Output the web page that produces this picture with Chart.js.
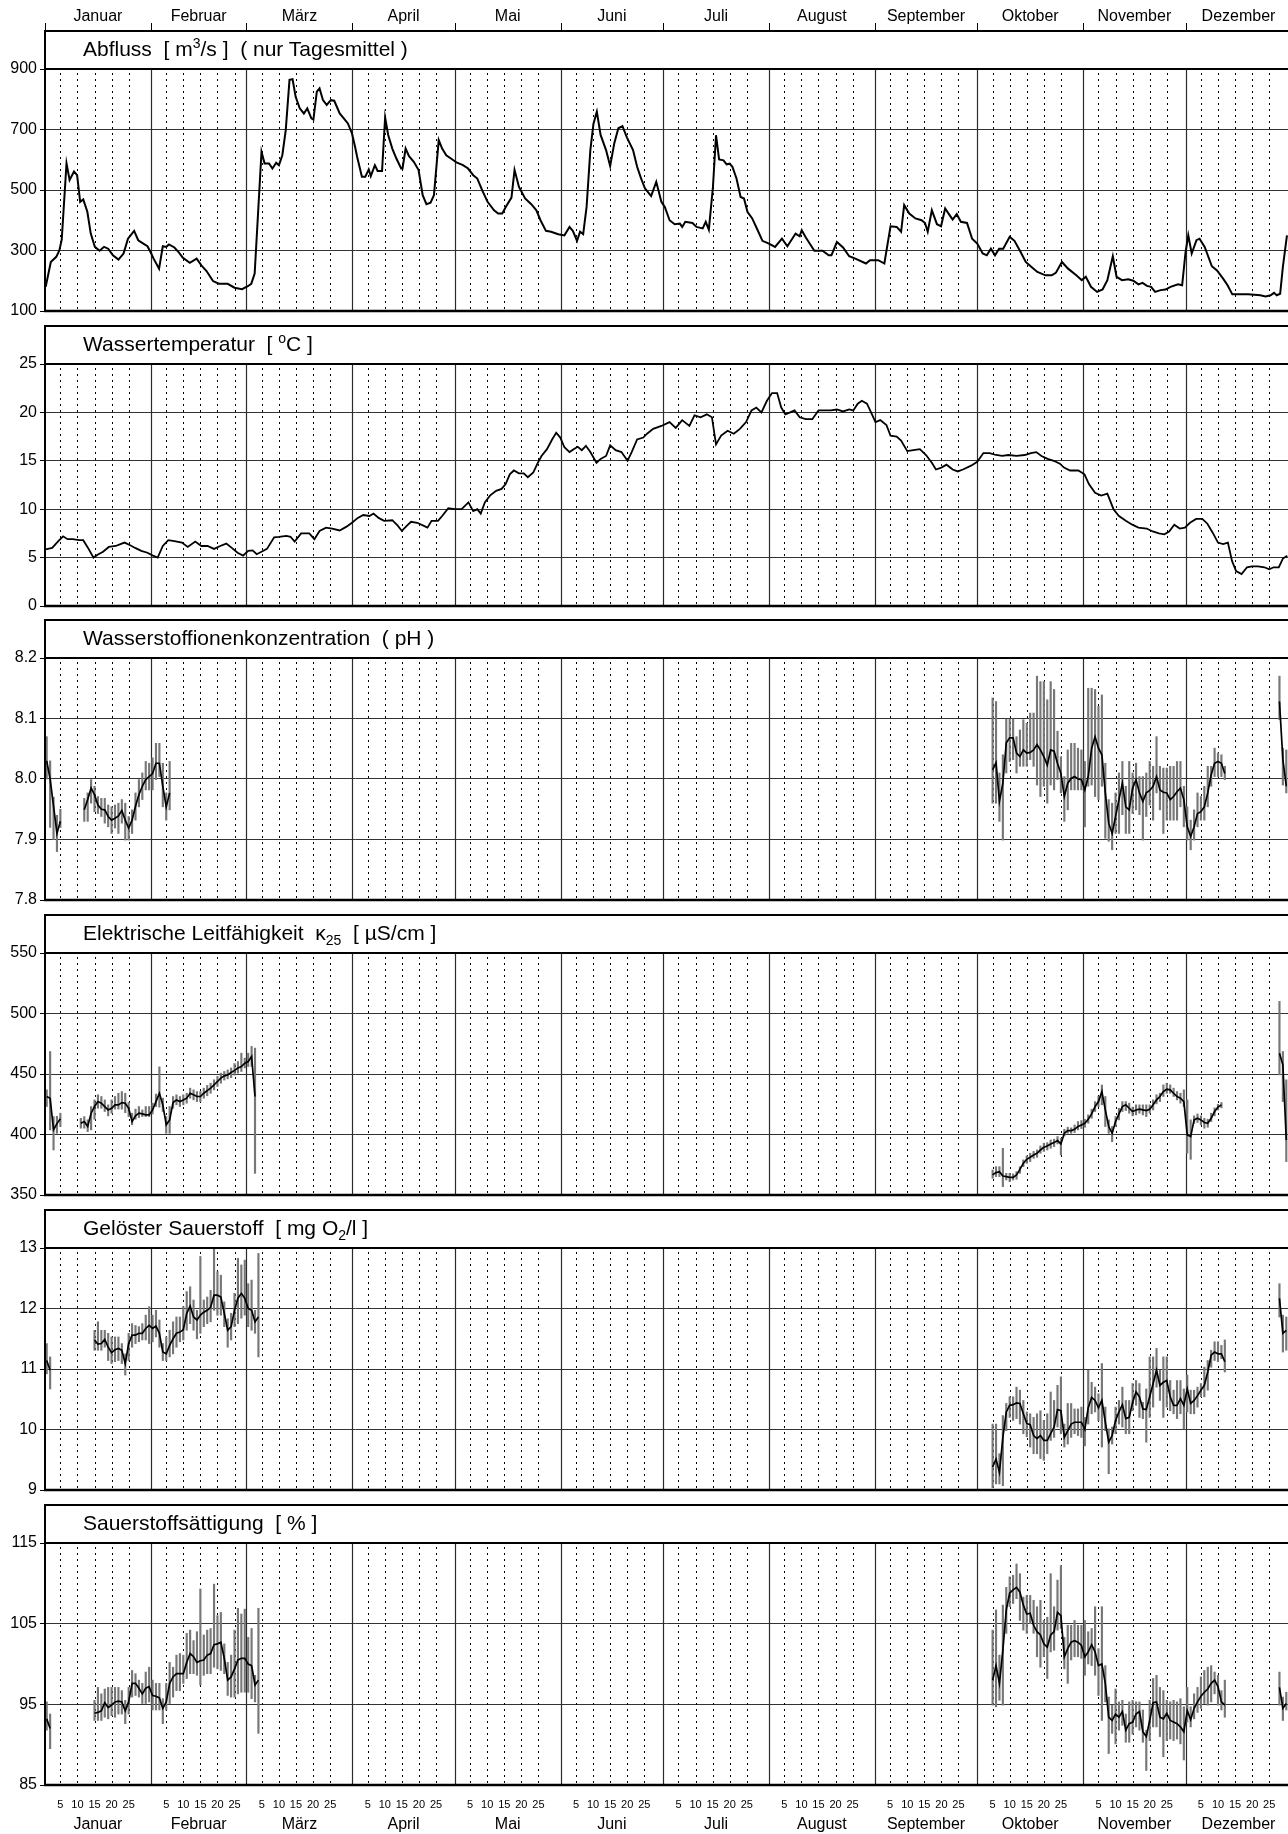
<!DOCTYPE html>
<html lang="de">
<head>
<meta charset="utf-8">
<title>Messstation Jahresgang</title>
<script src="https://cdn.jsdelivr.net/npm/chart.js@4.4.1/dist/chart.umd.min.js"></script>
<style>
  html, body { margin: 0; padding: 0; background: #fff; overflow: hidden; }
  #wrap { position: relative; width: 1288px; height: 1834px; }
  #wrap canvas { position: absolute; left: 0; }
  .titel { position: absolute; left: 83px; z-index: 2; font: 21px "Liberation Sans", Arial, sans-serif;
           line-height: 24px; white-space: pre; color: #000; }
  .titel sup { font-size: 14px; vertical-align: 8px; line-height: 0; }
  .titel sub { font-size: 14px; vertical-align: -5px; line-height: 0; }
</style>
</head>
<body>
<div id="wrap"></div>
<script>
// Kalender
var monate = ["Januar","Februar","März","April","Mai","Juni","Juli","August","September","Oktober","November","Dezember"];
var monatsLaenge = [31,28,31,30,31,30,31,31,30,31,30,31];
var tagMarken = [5,10,15,20,25];

// Abfluss [m3/s], Tagesmittel (Position im Jahr in Tagen)
var abflussTag = [0.2,1.7,3.3,4.2,4.9,6.3,7.2,8.5,9.4,10.3,11.2,12.4,13.4,14.6,16,17.3,18.5,19.9,21.5,23,24.3,26.1,27.3,28.8,30,30.9,31.8,33.4,34.5,35.5,36.3,37.9,39.1,40.3,42.4,44.4,45.8,47.3,49.2,50.9,53.5,55.5,57.7,59.4,60.4,61.4,63.4,64.3,65.6,66.6,67.7,68.5,69.5,70.5,71.6,72.5,73.4,74.6,75.8,76.8,78,78.6,79.6,80.4,81.4,82.5,83.7,84.7,86.3,87.5,88.7,89.9,90.8,91.4,92.8,93.8,94.8,95.4,96.6,97.4,98.7,99.6,100.5,101.7,102.9,104.3,104.7,105.6,106.6,108,109.4,110.6,111.7,112.9,113.9,115.3,116.3,117.5,119.3,120.5,122.4,123.9,125.4,126.6,128.1,129.6,131.5,132.7,133.9,135.1,136.6,137.5,138.8,140.6,142.4,143.9,145.1,146.7,148.2,150.3,152.1,153.6,154.6,155.8,156.7,157.6,158.6,159.7,160.6,161.6,162.7,164.3,165.5,166.7,167.9,169.1,170.4,172.2,173.4,174.5,175.7,177.5,179,180.5,181.5,182.9,184.4,185.9,186.6,187.5,189.6,190.8,192.6,193.5,194.4,195.6,196.5,197.4,198.7,199.6,200.5,201.3,202.5,203.7,204.7,205.7,207.1,208.7,210.1,212,213.8,215.8,217.4,219.8,221,221.6,222.8,225.3,227.7,229.5,230.3,231.9,233.7,235.5,237.3,240.4,241.6,244,245.8,247.6,249.4,250.7,251.6,253.1,254.9,256.7,257.7,258.5,259.7,261.2,262.4,263.6,264.9,265.8,267,268.2,270,271.5,273,274.6,275.8,277,278.2,279.4,280.6,282.5,283.9,285.7,287.2,288.8,290.6,293,294.8,296,297.8,299.6,302,303.6,304.8,306.3,308.1,309.7,311.1,312.7,313.8,315.4,317.2,318.7,320.2,321.4,322.7,323.9,325.1,326.7,328.1,329.6,331.8,333,334,334.8,335.8,337.2,338.1,339.6,341.7,343.2,345,346.3,347.7,349.9,352.3,355.9,357.4,358.9,359.9,360.7,361.7,362.5,363.7];
var abflussWert = [180,262,279,300,336,588,533,561,549,461,469,428,356,312,299,312,306,284,270,290,339,365,334,323,314,295,273,240,314,312,320,310,295,277,259,273,251,232,199,190,190,177,172,182,190,224,626,588,588,571,590,582,615,698,864,866,808,770,753,770,737,733,825,836,797,781,797,795,753,737,720,687,643,610,544,544,568,546,582,563,563,740,682,637,604,571,571,637,612,593,566,483,453,458,483,665,637,615,601,591,582,571,549,538,497,461,433,422,422,447,475,566,510,472,453,433,400,365,362,354,350,378,364,332,362,354,444,632,718,759,682,632,579,654,704,711,674,632,577,540,505,480,527,461,444,400,387,389,378,395,391,378,373,395,369,510,681,601,598,585,587,577,538,477,472,428,406,367,332,323,312,339,314,356,347,367,343,299,299,284,284,328,310,281,273,257,268,268,257,380,378,362,450,422,406,400,391,362,433,387,380,439,417,402,420,395,391,339,323,290,284,306,284,306,306,345,332,295,262,246,229,218,218,226,262,240,218,202,213,180,163,171,202,281,213,202,205,200,188,193,183,180,163,169,171,180,188,185,295,350,290,334,339,312,248,234,207,185,155,155,155,152,148,152,160,152,157,246,350];

// Wassertemperatur [°C]
var tempTag = [0.2,2.1,3.9,5.3,6.6,8.1,10,11.2,12.6,14.2,15.4,17,18.7,20.7,22.1,23.3,24.8,26.4,28.2,30,31.6,33,34.5,36.1,37.9,40.1,41.8,44,45.8,47.6,49.5,51.3,53.1,54.7,56.4,58,59.5,60.8,62,63.4,65,67.1,68.5,70.7,71.9,73.1,75,77.4,78.9,80.4,82.3,84.1,86.3,88.3,89.9,91.6,93.2,95,96.2,97.7,99.3,101.7,103.3,104.5,106,107.2,109,110.8,112,113.2,115.1,116.3,118.1,120,122,124,125.4,126.6,127.6,128.8,130.3,132.1,133.7,134.9,136.1,137.3,138.8,140.2,141.4,143,144.2,145.4,147,148.5,149.7,150.9,152.1,153.6,154.8,156,157.2,158.4,159.7,161.5,162.7,164.3,165.5,167.1,168.8,170.6,171.8,173.4,175.2,176.3,178.1,180.5,182.9,184.7,186.6,188.7,190.2,192,193.8,195.3,196.5,198,199.9,201.7,203.5,205.3,206.9,208.3,209.8,211.4,212.9,214.4,215.6,216.8,218.2,219.5,221,222.8,224.7,226.5,228.3,230.1,231.9,233.7,235.5,236.7,238,239.2,240.7,241.9,243.2,244.6,246.4,247.6,249.4,250.7,252.5,254.3,256.2,258,259.7,260.9,262.5,264,265.8,267.3,268.8,271.2,273,274.8,276.6,278.5,280.3,282.1,284.5,286.9,288.7,290.3,291.8,293.6,295.4,297.2,298.4,300.2,302.6,304.4,305.7,307.5,309.3,311.1,312.9,314.5,316.5,318.4,320.2,322.6,324.4,326.2,327.8,329.2,330.7,332.3,333.8,335.3,337.1,338.9,340.4,341.9,343.5,345,346.4,347.6,348.8,350.4,352,353.4,355.2,357.1,358.5,359.8,361.3,362.5,363.8];
var tempWert = [5.86,6.0,6.7,7.2,6.9,6.9,6.8,6.8,6.0,5.0,5.3,5.6,6.1,6.2,6.4,6.55,6.3,6.0,5.7,5.5,5.2,5.0,6.2,6.8,6.7,6.55,6.1,6.65,6.2,6.2,5.9,6.2,6.45,6.0,5.5,5.2,5.7,5.75,5.35,5.6,5.9,7.1,7.15,7.25,7.15,6.65,7.5,7.5,6.9,7.75,8.1,8.0,7.8,8.2,8.6,9.1,9.4,9.3,9.55,9.1,8.8,8.86,8.3,7.75,8.3,8.7,8.6,8.3,8.1,8.8,8.8,9.3,10.1,10.0,10.0,10.7,9.8,10.0,9.55,10.7,11.4,11.9,12.1,12.6,13.6,14.0,13.7,13.7,13.3,13.8,14.7,15.5,16.2,17.2,17.9,17.4,16.4,15.9,16.2,16.45,16.1,16.55,15.9,14.8,15.2,15.5,16.6,16.1,15.9,15.0,15.9,17.2,17.4,17.8,18.3,18.6,19.0,18.4,19.2,18.6,19.7,19.5,19.8,19.5,16.7,17.6,18.1,17.8,18.3,19.0,20.2,20.5,20.0,21.2,22.0,22.0,20.5,19.8,20.0,20.2,19.5,19.3,19.3,20.2,20.2,20.2,20.3,20.1,20.3,20.2,20.9,21.2,20.9,20.0,19.0,19.2,18.7,17.6,17.5,17.1,16.0,16.1,16.2,15.6,14.8,14.1,14.3,14.6,14.1,13.9,14.1,14.5,14.9,15.8,15.8,15.6,15.5,15.6,15.5,15.6,15.8,15.9,15.5,15.2,15.0,14.7,14.3,14.0,14.0,13.6,12.6,11.7,11.4,11.6,10.0,9.3,8.8,8.4,8.1,8.0,7.7,7.5,7.4,7.7,8.4,8.0,8.1,8.6,9.0,9.0,8.5,7.6,6.55,6.4,6.55,4.66,3.6,3.3,4.0,4.1,4.1,4.0,3.8,4.0,4.0,4.9,5.2];

// pH (Tag des Jahres, Tagesmittel, Tagesminimum, Tagesmaximum)
var phTag = [1,2,3,4,5,12,13,14,15,16,17,18,19,20,21,22,23,24,25,26,27,28,29,30,31,32,33,34,35,36,37,278,279,280,281,282,283,284,285,286,287,288,289,290,291,292,293,294,295,296,297,298,299,300,301,302,303,304,305,306,307,308,309,310,311,312,313,314,315,316,317,318,319,320,321,322,323,324,325,326,327,328,329,330,331,332,333,334,335,336,337,338,339,340,341,342,343,344,345,346,362,363,364];
var phMittel = [8.03,8.00,7.955,7.91,7.93,7.949,7.966,7.985,7.974,7.957,7.950,7.949,7.938,7.932,7.935,7.939,7.948,7.932,7.919,7.932,7.955,7.974,7.988,7.999,8.004,8.009,8.026,8.026,7.988,7.954,7.977,8.015,8.027,7.963,7.993,8.060,8.068,8.068,8.043,8.037,8.048,8.043,8.044,8.048,8.057,8.048,8.037,8.023,8.048,8.046,8.026,8.009,7.971,7.993,8.001,8.004,8.000,7.999,7.982,8.004,8.051,8.070,8.051,8.040,7.977,7.927,7.910,7.938,7.966,7.993,7.954,7.949,7.985,7.999,7.977,7.963,7.977,7.981,7.988,8.004,7.982,7.978,7.977,7.966,7.971,7.979,7.985,7.966,7.921,7.905,7.921,7.943,7.946,7.954,7.977,8.007,8.026,8.029,8.026,8.009,8.128,8.032,7.988];
var phMin = [8.00,7.92,7.90,7.88,7.92,7.930,7.930,7.960,7.946,7.943,7.938,7.927,7.921,7.910,7.919,7.910,7.927,7.899,7.899,7.910,7.932,7.954,7.966,7.982,7.982,7.982,7.999,8.004,7.954,7.932,7.949,7.960,7.960,7.930,7.899,8.010,8.029,8.032,8.010,8.021,8.021,8.021,8.032,8.021,7.990,7.971,7.988,7.960,7.990,7.982,7.999,7.977,7.930,7.949,7.982,7.982,7.982,7.982,7.921,7.988,7.990,7.971,7.966,7.988,7.902,7.897,7.883,7.910,7.910,7.941,7.910,7.910,7.943,7.949,7.941,7.899,7.938,7.957,7.932,7.977,7.949,7.910,7.932,7.932,7.932,7.932,7.954,7.921,7.899,7.883,7.899,7.921,7.932,7.932,7.954,7.988,8.004,8.004,8.004,7.999,8.098,7.990,7.977];
var phMax = [8.07,8.03,7.97,7.94,7.95,7.968,7.977,7.999,7.988,7.971,7.968,7.968,7.957,7.954,7.957,7.960,7.966,7.960,7.938,7.949,7.977,7.999,8.010,8.029,8.026,8.035,8.059,8.059,8.026,7.977,8.029,8.134,8.128,8.010,8.040,8.099,8.099,8.099,8.070,8.081,8.098,8.092,8.109,8.109,8.170,8.161,8.161,8.131,8.161,8.148,8.079,8.037,8.004,8.048,8.059,8.059,8.051,8.048,8.029,8.150,8.150,8.148,8.120,8.139,8.026,7.966,7.960,7.977,8.010,8.029,7.988,8.029,8.010,8.026,8.004,8.004,8.010,8.029,8.021,8.070,8.021,8.018,8.018,8.021,8.021,8.029,8.029,7.988,7.954,7.932,7.949,7.977,7.971,7.988,8.021,8.021,8.051,8.043,8.040,8.021,8.170,8.051,8.048];

// Elektrische Leitfähigkeit [µS/cm]
var lfTag = [1,2,3,4,5,11,12,13,14,15,16,17,18,19,20,21,22,23,24,25,26,27,28,29,30,31,32,33,34,35,36,37,38,39,40,41,42,43,44,45,46,47,48,49,50,51,52,53,54,55,56,57,58,59,60,61,62,278,279,280,281,282,283,284,285,286,287,288,289,290,291,292,293,294,295,296,297,298,299,300,301,302,303,304,305,306,307,308,309,310,311,312,313,314,315,316,317,318,319,320,321,322,323,324,325,326,327,328,329,330,331,332,333,334,335,336,337,338,339,340,341,342,343,344,345,362,363,364];
var lfMittel = [431.4,430.0,404.0,409.0,413.0,409.3,410.7,406.6,417.6,423.1,427.2,425.9,423.1,420.3,421.7,424.5,424.5,426.4,425.9,421.7,410.7,415.4,417.6,417.0,416.2,416.2,420.3,427.2,434.1,424.5,408.0,412.1,426.4,428.6,427.2,428.6,430.0,434.1,432.8,431.4,431.4,434.1,436.3,438.3,441.0,443.8,446.6,448.5,449.3,451.2,453.0,455.0,456.2,459.0,460.3,464.5,431.4,366.6,368.5,369.3,365.7,365.2,364.6,364.6,366.6,371.2,376.2,379.5,381.2,383.1,384.5,387.2,389.4,390.5,392.2,393.3,395.0,392.2,401.0,403.2,403.2,404.3,406.6,407.9,409.3,412.6,417.0,423.1,427.2,435.5,420.3,406.6,401.0,410.7,417.0,423.1,424.5,421.7,419.0,420.3,420.9,420.3,419.8,420.9,424.5,428.6,431.4,435.5,437.4,436.9,434.1,431.4,430.0,427.2,399.7,398.3,412.1,413.4,412.1,409.9,409.3,413.4,419.0,422.6,424.5,467.2,457.6,395.5];
var lfMin = [423.1,403.8,387.2,401.0,406.6,405.2,405.2,402.4,403.8,412.6,421.7,421.7,419.0,415.4,417.6,421.0,421.0,421.0,418.0,414.8,408.0,412.6,414.0,414.8,414.8,414.8,417.0,423.1,422.6,419.0,401.0,401.0,421.7,424.5,423.1,424.5,425.9,430.0,428.6,427.2,427.2,430.0,432.0,434.1,436.9,439.7,442.4,445.0,446.0,447.0,449.0,450.7,452.1,455.0,456.2,456.2,367.9,363.8,365.2,365.2,356.9,362.4,361.0,362.4,363.0,367.9,373.4,376.2,377.6,380.3,381.2,384.5,386.0,387.2,388.6,390.0,392.2,383.1,398.8,401.0,401.0,401.6,403.8,404.9,406.0,409.3,413.4,419.0,423.1,424.5,406.6,401.0,394.1,406.6,412.1,419.0,419.8,417.6,415.4,416.2,417.6,416.2,414.8,417.6,420.3,425.3,427.2,431.4,434.1,434.1,431.4,428.6,425.9,423.1,384.5,379.5,409.0,410.0,408.0,405.2,406.0,410.7,415.4,420.3,422.0,449.3,427.2,377.6];
var lfMax = [436.9,468.6,414.8,415.0,417.6,413.4,414.8,412.1,423.1,428.6,432.8,431.4,428.6,424.5,428.6,431.4,434.1,435.5,434.1,426.4,417.6,421.0,423.1,420.3,423.1,423.1,425.9,433.4,455.9,430.0,414.8,423.1,431.4,432.8,431.4,432.8,434.1,438.3,436.9,435.5,435.5,438.3,440.6,442.4,445.2,448.0,450.7,452.1,453.4,455.0,458.6,460.3,467.2,463.1,467.2,472.8,471.4,370.7,373.4,373.4,388.6,367.9,367.9,367.4,369.3,373.4,379.0,382.3,384.5,386.0,387.2,390.5,392.8,393.3,395.5,396.1,398.3,396.9,404.3,406.0,405.5,407.9,410.7,411.5,412.6,416.2,420.9,427.2,431.4,440.9,431.4,412.1,406.6,414.8,421.7,427.2,427.2,425.9,422.6,424.5,424.5,424.5,424.5,424.5,428.6,432.8,434.1,441.0,442.4,441.0,438.3,435.5,434.1,436.9,428.6,412.1,415.4,417.0,415.4,413.4,412.6,417.6,422.0,425.0,426.4,510.0,468.6,445.2];

// Gelöster Sauerstoff [mg O2/l] und Sauerstoffsättigung [%]
var o2Tag = [1,2,15,16,17,18,19,20,21,22,23,24,25,26,27,28,29,30,31,32,33,34,35,36,37,38,39,40,41,42,43,44,45,46,47,48,49,50,51,52,53,54,55,56,57,58,59,60,61,62,63,278,279,280,281,282,283,284,285,286,287,288,289,290,291,292,293,294,295,296,297,298,299,300,301,302,303,304,305,306,307,308,309,310,311,312,313,314,315,316,317,318,319,320,321,322,323,324,325,326,327,328,329,330,331,332,333,334,335,336,337,338,339,340,341,342,343,344,345,346,362,363,364];
var o2Mittel = [11.14,10.98,11.48,11.41,11.42,11.49,11.36,11.27,11.32,11.34,11.31,11.09,11.42,11.56,11.56,11.59,11.59,11.67,11.72,11.67,11.71,11.59,11.28,11.25,11.39,11.50,11.59,11.61,11.65,11.92,12.04,11.86,11.81,11.89,11.94,11.97,12.02,12.22,12.22,12.19,11.92,11.64,11.70,11.97,12.17,12.25,12.17,12.00,11.97,11.78,11.86,9.38,9.51,9.29,9.87,10.29,10.40,10.41,10.44,10.43,10.26,10.10,10.08,9.90,9.85,9.90,9.82,9.82,9.93,10.04,10.33,10.31,9.87,9.98,10.09,10.12,10.12,10.12,10.00,10.36,10.53,10.48,10.36,10.48,10.12,9.79,9.90,10.15,10.29,10.41,10.18,10.20,10.45,10.62,10.54,10.34,10.33,10.54,10.76,10.98,10.73,10.78,10.81,10.54,10.40,10.40,10.51,10.40,10.67,10.43,10.48,10.56,10.65,10.73,10.95,11.23,11.28,11.25,11.25,11.12,12.17,11.59,11.64];
var o2Min = [10.92,10.67,11.31,11.31,11.31,11.36,11.14,11.09,11.12,11.14,11.09,10.90,11.14,11.36,11.42,11.45,11.48,11.48,11.42,11.45,11.53,11.36,11.14,11.14,11.20,11.25,11.36,11.45,11.48,11.64,11.75,11.64,11.50,11.59,11.70,11.75,11.78,11.97,11.89,11.89,11.70,11.36,11.48,11.70,11.75,11.84,11.89,11.70,11.64,11.59,11.20,9.04,9.10,9.10,9.07,9.98,10.20,10.15,10.18,10.09,9.93,9.88,9.71,9.60,9.60,9.52,9.49,9.60,9.82,9.87,10.04,9.93,9.71,9.76,9.87,9.93,9.90,9.87,9.73,10.09,10.26,10.29,10.15,9.71,9.98,9.27,9.76,9.93,10.09,10.04,9.93,9.93,10.31,10.40,10.20,10.18,9.79,10.20,10.37,10.70,10.48,10.20,10.37,10.31,10.26,10.18,10.26,10.01,10.29,10.26,10.26,10.37,10.54,10.54,10.65,11.03,11.14,11.12,11.17,10.95,11.86,11.28,11.31];
var o2Max = [11.42,11.20,11.64,11.78,11.64,11.64,11.59,11.53,11.53,11.53,11.42,11.25,11.59,11.75,11.72,11.70,11.75,11.89,12.03,11.89,11.97,11.81,11.42,11.53,11.64,11.78,11.86,11.86,12.03,12.28,12.36,12.14,11.97,12.86,12.14,12.19,12.30,13.02,12.61,12.55,12.11,11.83,11.92,12.25,12.83,12.72,12.80,12.41,12.47,11.97,12.91,10.09,10.09,9.60,10.23,10.43,10.54,10.54,10.70,10.65,10.48,10.29,10.26,10.20,10.26,10.31,10.15,10.26,10.62,10.48,10.73,10.87,10.09,10.43,10.43,10.34,10.34,10.37,10.20,10.98,10.78,10.70,10.59,11.09,10.37,10.01,10.04,10.37,10.48,10.70,10.48,10.48,10.76,10.81,10.76,10.45,10.67,11.20,11.20,11.34,10.98,11.20,11.20,10.81,10.65,10.81,10.81,10.67,10.90,10.65,10.65,10.70,10.76,11.03,11.14,11.31,11.45,11.45,11.39,11.48,12.41,11.89,11.86];
var satMittel = [93.2,92.0,93.9,94.0,94.2,95.2,94.6,94.9,95.3,95.4,95.3,94.2,95.3,97.6,97.6,97.0,96.3,97.0,97.2,96.1,96.0,95.8,94.5,95.3,97.6,98.4,98.8,98.8,98.8,100.2,101.3,100.9,100.2,100.4,100.5,101.1,101.3,102.4,102.5,102.7,100.7,98.0,98.4,99.4,100.5,100.7,100.7,100.0,99.8,97.4,98.0,98.0,99.8,97.6,101.7,106.7,108.8,109.2,109.5,108.9,107.3,106.2,106.3,104.8,104.0,103.6,102.5,102.1,103.6,104.0,106.4,106.0,100.9,101.9,102.7,102.9,102.7,102.3,100.9,101.5,102.4,101.5,99.8,100.0,97.6,93.4,93.0,93.8,93.4,94.1,91.8,92.6,92.8,93.8,94.1,91.6,91.0,93.0,95.2,95.3,93.4,93.2,93.9,93.0,92.8,92.6,92.2,91.6,94.2,93.1,94.5,95.3,96.0,96.5,96.9,97.6,98.0,97.2,95.3,94.9,97.1,94.5,95.1];
var satMin = [91.8,89.5,93.0,93.0,93.0,93.4,93.2,93.6,93.4,93.8,93.8,92.6,93.8,95.9,96.1,95.9,95.1,95.1,95.3,94.3,94.3,94.3,92.6,94.3,95.1,95.9,96.7,96.7,97.6,98.2,98.8,98.8,98.6,97.4,98.6,98.8,98.8,99.6,99.4,99.2,98.8,96.1,95.9,95.9,96.3,96.5,96.5,96.5,95.7,95.3,91.4,94.9,94.7,95.5,94.9,103.8,107.1,107.5,108.1,105.4,104.2,103.8,105.0,103.8,100.9,99.6,100.9,98.2,101.5,101.7,104.2,104.4,99.4,97.6,100.5,100.9,100.9,100.7,98.6,100.0,99.8,98.6,96.1,93.0,95.3,88.9,91.4,90.1,91.8,92.4,90.3,90.3,91.3,92.2,91.8,90.3,86.8,90.5,92.2,92.2,91.0,88.5,90.5,90.7,90.5,90.7,90.1,88.1,92.8,92.2,93.2,94.0,94.5,95.1,94.9,95.3,96.3,94.9,94.3,93.4,94.9,93.0,94.3];
var satMax = [95.3,93.8,95.5,97.1,96.3,96.9,97.1,97.1,97.1,97.1,96.7,95.5,97.1,99.2,98.8,98.0,97.6,99.0,99.6,98.0,97.6,97.6,95.7,97.6,100.2,99.6,101.1,101.3,101.1,103.8,104.2,102.9,104.0,109.3,103.6,104.2,104.4,109.9,106.0,106.4,102.5,100.2,101.1,104.2,106.9,106.2,106.8,103.3,104.4,98.6,106.9,104.2,106.7,101.1,107.3,109.5,110.8,111.0,112.4,111.2,108.3,108.5,108.5,107.9,107.1,107.9,105.4,105.8,111.2,107.1,110.4,112.2,103.3,104.8,104.8,105.4,104.8,104.8,105.4,104.0,104.4,107.1,101.9,107.1,99.8,95.9,94.9,96.9,95.3,95.5,93.8,95.3,95.5,95.3,95.3,94.3,91.8,95.5,98.2,98.6,97.1,96.7,95.5,95.3,95.5,95.3,95.7,94.7,97.1,94.7,96.3,97.1,98.4,99.2,99.6,99.8,99.0,98.6,96.7,98.0,99.0,95.9,96.5];

Chart.defaults.font.family = '"Liberation Sans", Arial, sans-serif';
Chart.defaults.color = '#000';

var monatsAnfang = [];
var summe = 0;
monatsLaenge.forEach(function (l) { monatsAnfang.push(summe); summe += l; });

function kurve(pos, werte) {
  return pos.map(function (p, i) { return { x: p, y: werte[i] }; });
}

// Tageswerte, mit Luecke wenn Tage fehlen
function linie(tage, werte) {
  var pkt = [];
  for (var i = 0; i < tage.length; i++) {
    if (i > 0 && tage[i] - tage[i - 1] > 1) pkt.push({ x: tage[i] - 1, y: null });
    pkt.push({ x: tage[i] - 0.5, y: werte[i] });
  }
  return pkt;
}

function spanne(tage, lo, hi) {
  return tage.map(function (t, i) { return { x: t - 0.5, y: [lo[i], hi[i]] }; });
}

function strich(ctx, x1, y1, x2, y2) {
  ctx.beginPath(); ctx.moveTo(x1, y1); ctx.lineTo(x2, y2); ctx.stroke();
}

var raster = {
  id: 'raster',
  beforeDatasetsDraw: function (chart, args, o) {
    var ctx = chart.ctx, sx = chart.scales.x, a = chart.chartArea;
    ctx.save();
    ctx.beginPath(); ctx.rect(a.left, a.top, a.right - a.left, a.bottom - a.top); ctx.clip();
    ctx.strokeStyle = '#000';
    ctx.lineWidth = 1;
    ctx.setLineDash([2, 4]);
    monatsAnfang.forEach(function (s) {
      tagMarken.forEach(function (t) {
        var px = Math.round(sx.getPixelForValue(s + t - 0.5)) + 0.5;
        strich(ctx, px, a.top + 4, px, a.bottom);
      });
    });
    ctx.setLineDash([]);
    ctx.strokeStyle = '#2a2a2a';
    ctx.lineWidth = 1.2;
    monatsAnfang.forEach(function (s, m) {
      if (m === 0) return;
      var px = Math.round(sx.getPixelForValue(s)) + 0.5;
      strich(ctx, px, a.top, px, a.bottom);
    });
    ctx.restore();
  },
  afterDraw: function (chart, args, o) {
    var ctx = chart.ctx, sx = chart.scales.x, a = chart.chartArea;
    var oben = o.boxTop - o.canvasTop;
    ctx.save();
    ctx.strokeStyle = '#000';
    ctx.lineWidth = 2;
    strich(ctx, a.left, oben, chart.width, oben);
    strich(ctx, a.left, a.top, chart.width, a.top);
    strich(ctx, a.left, oben - 1, a.left, a.bottom + 1);
    ctx.lineWidth = 2.5;
    strich(ctx, a.left - 1, a.bottom, chart.width, a.bottom);

    ctx.fillStyle = '#000';
    ctx.textAlign = 'center';
    ctx.textBaseline = 'middle';
    if (o.kopf) {
      ctx.font = '16px "Liberation Sans", Arial, sans-serif';
      ctx.lineWidth = 1;
      monate.forEach(function (name, m) {
        var mitte = monatsAnfang[m] + monatsLaenge[m] / 2;
        ctx.fillText(name, sx.getPixelForValue(mitte), 17 - o.canvasTop);
        var px = Math.round(sx.getPixelForValue(monatsAnfang[m])) + 0.5;
        strich(ctx, px, 23 - o.canvasTop, px, oben);
      });
    }
    if (o.fuss) {
      ctx.font = '11px "Liberation Sans", Arial, sans-serif';
      monatsAnfang.forEach(function (s) {
        tagMarken.forEach(function (t) {
          ctx.fillText(String(t), sx.getPixelForValue(s + t - 0.5), 1805 - o.canvasTop);
        });
      });
      ctx.font = '16px "Liberation Sans", Arial, sans-serif';
      monate.forEach(function (name, m) {
        var mitte = monatsAnfang[m] + monatsLaenge[m] / 2;
        ctx.fillText(name, sx.getPixelForValue(mitte), 1825 - o.canvasTop);
      });
    }
    ctx.restore();
  }
};

var panels = [
  { titel: 'Abfluss  [ m<sup>3</sup>/s ]  ( nur Tagesmittel )', boxTop: 31, plotTop: 69,
    min: 100, max: 900, step: 200, dez: 0, breite: 2, linie: kurve(abflussTag, abflussWert) },
  { titel: 'Wassertemperatur  [ <sup>o</sup>C ]', boxTop: 326, plotTop: 364,
    min: 0, max: 25, step: 5, dez: 0, breite: 1.8, linie: kurve(tempTag, tempWert) },
  { titel: 'Wasserstoffionenkonzentration  ( pH )', boxTop: 620, plotTop: 658,
    min: 7.8, max: 8.2, step: 0.1, dez: 1, linie: linie(phTag, phMittel), spanne: spanne(phTag, phMin, phMax) },
  { titel: 'Elektrische Leitfähigkeit  κ<sub>25</sub>  [ µS/cm ]', boxTop: 915, plotTop: 953,
    min: 350, max: 550, step: 50, dez: 0, linie: linie(lfTag, lfMittel), spanne: spanne(lfTag, lfMin, lfMax) },
  { titel: 'Gelöster Sauerstoff  [ mg O<sub>2</sub>/l ]', boxTop: 1210, plotTop: 1248,
    min: 9, max: 13, step: 1, dez: 0, linie: linie(o2Tag, o2Mittel), spanne: spanne(o2Tag, o2Min, o2Max) },
  { titel: 'Sauerstoffsättigung  [ % ]', boxTop: 1505, plotTop: 1543,
    min: 85, max: 115, step: 10, dez: 0, linie: linie(o2Tag, satMittel), spanne: spanne(o2Tag, satMin, satMax) }
];

var plotHoehe = 242;
var wrap = document.getElementById('wrap');

panels.forEach(function (p, i) {
  var cTop = i === 0 ? 0 : p.boxTop - 4;
  var cBottom = i === panels.length - 1 ? 1834 : p.plotTop + plotHoehe + 14;
  var h = cBottom - cTop;

  var canvas = document.createElement('canvas');
  canvas.width = 1288;
  canvas.height = h;
  canvas.style.top = cTop + 'px';
  canvas.style.width = '1288px';
  canvas.style.height = h + 'px';
  wrap.appendChild(canvas);

  var titel = document.createElement('div');
  titel.className = 'titel';
  titel.style.top = (p.boxTop + 6) + 'px';
  titel.innerHTML = p.titel;
  wrap.appendChild(titel);

  var datasets = [{
    type: 'line', data: p.linie, borderColor: '#000', borderWidth: p.breite || 1.7,
    pointRadius: 0, tension: 0, spanGaps: false, order: 0
  }];
  if (p.spanne) {
    datasets.push({
      type: 'bar', data: p.spanne, backgroundColor: '#777', borderWidth: 0,
      barThickness: 1.5, order: 1
    });
  }

  new Chart(canvas, {
    type: 'line',
    data: { datasets: datasets },
    options: {
      responsive: false,
      animation: false,
      devicePixelRatio: 1,
      events: [],
      layout: { padding: { top: p.plotTop - cTop, bottom: h - (p.plotTop + plotHoehe - cTop), left: 0, right: 0 } },
      scales: {
        x: { type: 'linear', min: 0, max: 364, display: false, offset: false, grid: { offset: false } },
        y: {
          type: 'linear', min: p.min, max: p.max,
          afterFit: function (s) { s.width = 45; },
          ticks: {
            stepSize: p.step, padding: 3, color: '#000', font: { size: 16 },
            callback: function (v) { return Number(v).toFixed(p.dez); }
          },
          grid: { color: '#333', lineWidth: 1, tickLength: 5, tickColor: '#000' },
          border: { display: false }
        }
      },
      plugins: {
        legend: { display: false },
        tooltip: { enabled: false },
        raster: { boxTop: p.boxTop, canvasTop: cTop, kopf: i === 0, fuss: i === panels.length - 1 }
      }
    },
    plugins: [raster]
  });
});
</script>
</body>
</html>
